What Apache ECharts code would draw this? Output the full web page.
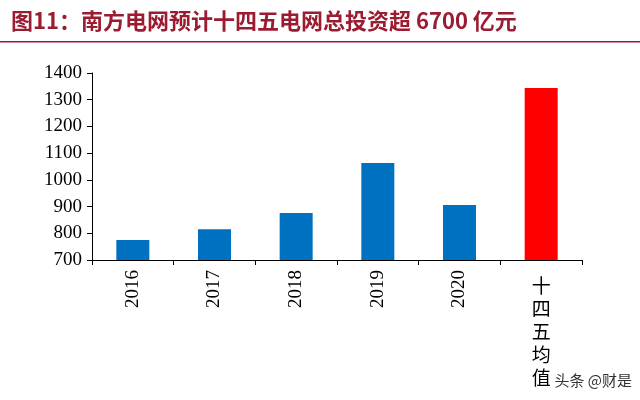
<!DOCTYPE html>
<html><head><meta charset="utf-8">
<script src="https://cdn.jsdelivr.net/npm/echarts@6/dist/echarts.min.js"></script>
<style>html,body{margin:0;padding:0;background:#fff}#c{width:640px;height:400px}</style>
</head><body><div id="c"></div>
<script>
var categories = ['2016', '2017', '2018', '2019', '2020', '十四五均值'];
var values = [775, 815, 876, 1063, 906, 1344];
var barColors = ['#0070C0', '#0070C0', '#0070C0', '#0070C0', '#0070C0', '#FF0000'];
var titleText = '图11：南方电网预计十四五电网总投资超 6700 亿元';

var chart = echarts.init(document.getElementById('c'));
chart.setOption({
    animation: false,
    title: {
        text: titleText, left: 6, top: 5,
        textStyle: { fontFamily: 'Noto Sans CJK SC', fontWeight: 'bold', fontSize: 22, color: '#9B1B30' }
    },
    graphic: [
        { type: 'rect', shape: { x: 0, y: 41, width: 640, height: 1.5 }, style: { fill: '#9B1B30' } },
        { type: 'text', right: 8, bottom: 12, style: { text: '头条 @财是', fill: '#333', font: '15px "Noto Sans CJK SC"' } }
    ],
    grid: { left: 92, right: 58, top: 73, bottom: 140 },
    xAxis: [{
        type: 'category', data: categories,
        axisLine: { lineStyle: { color: '#000' } },
        axisTick: { show: true, lineStyle: { color: '#000' } },
        axisLabel: {
            rotate: 90, margin: 10, color: '#000', fontFamily: 'Liberation Serif', fontSize: 19,
            formatter: function (v) { return /^\d+$/.test(v) ? v : ''; }
        }
    }, {
        type: 'category', data: categories, position: 'bottom',
        axisLine: { show: false }, axisTick: { show: false },
        axisLabel: {
            margin: 14, color: '#000', fontFamily: 'Noto Sans CJK SC', fontSize: 19, lineHeight: 23,
            formatter: function (v) { return /^\d+$/.test(v) ? '' : v.split('').join('\n'); }
        }
    }],
    yAxis: {
        type: 'value', min: 700, max: 1400, interval: 100,
        splitLine: { show: false },
        axisLine: { show: true, lineStyle: { color: '#000' } },
        axisTick: { show: true, lineStyle: { color: '#000' } },
        axisLabel: { color: '#000', fontFamily: 'Liberation Serif', fontSize: 19, margin: 10,
            formatter: function (v) { return String(v); } }
    },
    series: [{
        type: 'bar', barWidth: 33,
        data: values.map(function (v, i) { return { value: v, itemStyle: { color: barColors[i] } }; })
    }]
});
</script></body></html>
